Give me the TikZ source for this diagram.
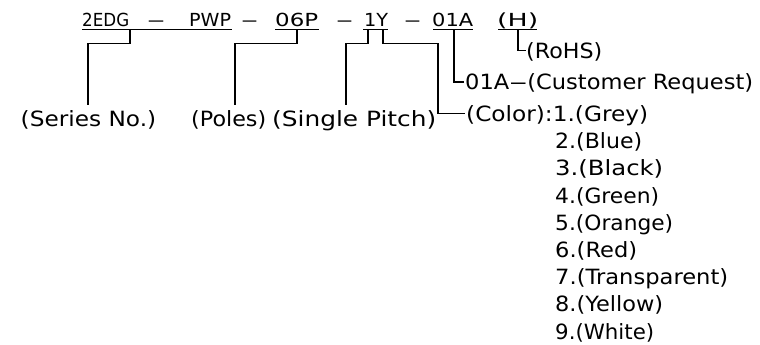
\documentclass[tikz,border=0pt]{standalone}
\usepackage{fontspec}
\setmainfont{DejaVu Sans}
\usepackage{graphicx}
\newsavebox\fitbox
\newcommand\fitw[2]{\sbox\fitbox{#2}\pgfmathsetmacro\fitratio{#1/\the\wd\fitbox}\scalebox{\fitratio}[1]{\usebox\fitbox}}
\tikzset{
  lbl/.style={anchor=base west, inner sep=0pt, font=\fontsize{21}{25}\selectfont},
  code/.style={anchor=base west, inner sep=0pt, font=\fontsize{18}{21}\selectfont},
  wire/.style={line width=1.2pt, draw=black},
}
\begin{document}
\begin{tikzpicture}[x=1pt,y=-1pt]
\useasboundingbox (0,0) rectangle (760,345);
% part number line
\node[code] (c1) at (82,26.5) {\fitw{47}{2EDG}};
\node[code] (d1) at (147,26.5) {\fitw{18}{–}};
\node[code] (c2) at (189,26.5) {\fitw{42}{PWP}};
\node[code] (d2) at (241,26.5) {\fitw{17}{–}};
\node[code] (c3) at (275,26.5) {\fitw{43}{06P}};
\node[code] (d3) at (336,26.5) {\fitw{17}{–}};
\node[code] (c4) at (364,26.5) {\fitw{24}{1Y}};
\node[code] (d4) at (404,26.5) {\fitw{17}{–}};
\node[code] (c5) at (432,26.5) {\fitw{41}{01A}};
\node[code] (c6) at (497,26.5) {\fitw{41}{(H)}};
% underlines
\draw[wire] (82,29.5) -- (232,29.5);
\draw[wire] (275,29.5) -- (319,29.5);
\draw[wire] (363,29.5) -- (388,29.5);
\draw[wire] (433,29.5) -- (473,29.5);
\draw[wire] (498,29.5) -- (537,29.5);
% taps
\coordinate (tS) at (130,29.5);
\coordinate (tP) at (297,29.5);
\coordinate (tSP) at (368,29.5);
\coordinate (tC) at (383,29.5);
\coordinate (tCR) at (454,29.5);
\coordinate (tR) at (518,29.5);
% bottom labels
\node[lbl] (series) at (20.5,126) {\fitw{135.5}{(Series No.)}};
\node[lbl] (poles) at (191,126) {\fitw{75}{(Poles)}};
\node[lbl] (pitch) at (272,126) {\fitw{164}{(Single Pitch)}};
% side labels
\node[lbl] (rohs) at (526,58.2) {\fitw{76}{(RoHS)}};
\node[lbl] (cust) at (465,89.7) {\fitw{288}{01A\scalebox{1.6}[1]{–}(Customer Request)}};
\node[lbl] (grey) at (466,121.4) {\fitw{182}{(Color):1.(Grey)}};
\node[lbl] (col2) at (555,148.6) {\fitw{87}{2.(Blue)}};
\node[lbl] (col3) at (555,175.8) {\fitw{108}{3.(Black)}};
\node[lbl] (col4) at (555,203.0) {\fitw{104}{4.(Green)}};
\node[lbl] (col5) at (555,230.2) {\fitw{118}{5.(Orange)}};
\node[lbl] (col6) at (555,257.4) {\fitw{82}{6.(Red)}};
\node[lbl] (col7) at (555,284.6) {\fitw{173}{7.(Transparent)}};
\node[lbl] (col8) at (555,311.8) {\fitw{108}{8.(Yellow)}};
\node[lbl] (col9) at (555,339.0) {\fitw{99}{9.(White)}};
% connector ends
\coordinate (eS) at (88,105);
\coordinate (eP) at (235,105);
\coordinate (eSP) at (346,105);
\coordinate (kC) at (438,113.7);
\coordinate (eC) at (465,113.7);
\coordinate (eCR) at (464,82);
\coordinate (eR) at (526,50.5);
% connectors
\draw[wire] (tS) -- ++(0,14) -| (eS);
\draw[wire] (tP) -- ++(0,14) -| (eP);
\draw[wire] (tSP) -- ++(0,14) -| (eSP);
\draw[wire] (tC) -- ++(0,14) -| (kC) -- (eC);
\draw[wire] (tCR) |- (eCR);
\draw[wire] (tR) |- (eR);
\end{tikzpicture}
\end{document}
